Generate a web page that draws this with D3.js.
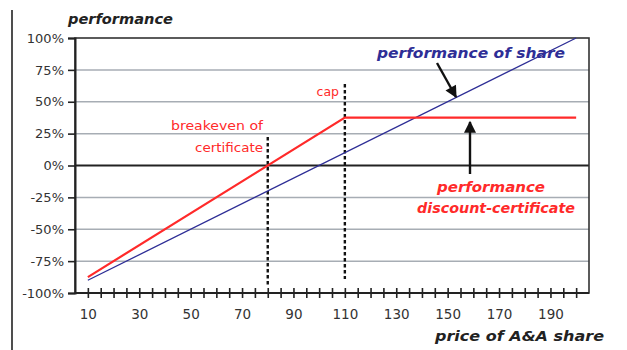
<!DOCTYPE html>
<html>
<head>
<meta charset="utf-8">
<script src="https://cdn.jsdelivr.net/npm/d3@7"></script>
<style>
  html, body { margin: 0; padding: 0; background: #fff; }
  svg { display: block; }
  text { font-family: "DejaVu Sans", sans-serif; }
</style>
</head>
<body>
<svg id="chart" width="627" height="350"></svg>
<script>
// Share price (x) and performance in percent (y)
const sharePrices = [10, 200];
const sharePerf = [-90, 100];

const certPrices = [10, 110, 200];
const certPerf = [-87.5, 37.5, 37.5];

const breakevenPrice = 80;
const capPrice = 110;

const yTicks = [-100, -75, -50, -25, 0, 25, 50, 75, 100];
const xTickLabels = [10, 30, 50, 70, 90, 110, 130, 150, 170, 190];
const xMinorTicks = [10, 15, 20, 25, 30, 35, 40, 45, 50, 55, 60, 65, 70, 75, 80, 85, 90, 95, 100,
  105, 110, 115, 120, 125, 130, 135, 140, 145, 150, 155, 160, 165, 170, 175, 180, 185, 190, 195, 200];

const svg = d3.select("#chart");
const m = { left: 75, right: 589, top: 38, bottom: 293 };

const x = d3.scaleLinear().domain([5, 205]).range([m.left, m.right]);
const y = d3.scaleLinear().domain([-100, 100]).range([m.bottom, m.top]);

const RED = "#ff2a2a";
const BLUE = "#2e2e96";

// page rule on the left
svg.append("line")
  .attr("x1", 12).attr("x2", 12).attr("y1", 10).attr("y2", 350)
  .attr("stroke", "#222").attr("stroke-width", 1.6);

// horizontal gridlines
svg.append("g").selectAll("line")
  .data(yTicks.filter(d => d !== 0 && d !== 100 && d !== -100))
  .join("line")
  .attr("x1", m.left).attr("x2", m.right)
  .attr("y1", d => y(d)).attr("y2", d => y(d))
  .attr("stroke", "#a7adb4").attr("stroke-width", 1.5);

// zero line
svg.append("line")
  .attr("x1", m.left).attr("x2", m.right)
  .attr("y1", y(0)).attr("y2", y(0))
  .attr("stroke", "#222").attr("stroke-width", 2);

// frame
svg.append("rect")
  .attr("x", m.left).attr("y", m.top)
  .attr("width", m.right - m.left).attr("height", m.bottom - m.top)
  .attr("fill", "none").attr("stroke", "#333").attr("stroke-width", 1.6);

// y axis
const yAxis = d3.axisLeft(y).tickValues(yTicks).tickSize(7).tickPadding(4)
  .tickFormat(d => (d < 0 ? "-" + Math.abs(d) : d) + "%");
const gy = svg.append("g").attr("transform", `translate(${m.left},0)`).call(yAxis);
gy.select(".domain").attr("stroke", "#222").attr("stroke-width", 2);
gy.selectAll(".tick line").attr("stroke", "#222").attr("stroke-width", 1.6);
gy.selectAll(".tick text").attr("font-size", 13).attr("fill", "#333")
  .attr("font-family", "DejaVu Sans, sans-serif");

// x axis: minor cross ticks
const xAxis = d3.axisBottom(x).tickValues(xMinorTicks).tickSize(4).tickFormat("");
const gx = svg.append("g").attr("transform", `translate(0,${m.bottom})`).call(xAxis);
gx.select(".domain").remove();
gx.selectAll(".tick line").attr("y1", -5).attr("y2", 5).attr("stroke", "#222").attr("stroke-width", 1.6);
svg.append("line").attr("x1", m.left).attr("x2", m.right).attr("y1", m.bottom).attr("y2", m.bottom)
  .attr("stroke", "#222").attr("stroke-width", 2);

// x axis labels
const gxl = svg.append("g").attr("transform", `translate(0,${m.bottom})`)
  .call(d3.axisBottom(x).tickValues(xTickLabels).tickSize(0).tickPadding(16));
gxl.select(".domain").remove();
gxl.selectAll(".tick text").attr("font-size", 13.5).attr("fill", "#333")
  .attr("font-family", "DejaVu Sans, sans-serif");

// dashed markers
svg.append("line")
  .attr("x1", x(breakevenPrice)).attr("x2", x(breakevenPrice))
  .attr("y1", 137).attr("y2", m.bottom - 6)
  .attr("stroke", "#111").attr("stroke-width", 2.4).attr("stroke-dasharray", "3.5,2.5");
svg.append("line")
  .attr("x1", x(capPrice)).attr("x2", x(capPrice))
  .attr("y1", 84).attr("y2", m.bottom - 14)
  .attr("stroke", "#111").attr("stroke-width", 2.4).attr("stroke-dasharray", "3.5,2.5");

const line = d3.line().x(d => x(d[0])).y(d => y(d[1]));

// share line
svg.append("path")
  .datum(sharePrices.map((p, i) => [p, sharePerf[i]]))
  .attr("d", line).attr("fill", "none").attr("stroke", BLUE).attr("stroke-width", 1.3);

// certificate line
svg.append("path")
  .datum(certPrices.map((p, i) => [p, certPerf[i]]))
  .attr("d", line).attr("fill", "none").attr("stroke", RED).attr("stroke-width", 2.2);

// arrow marker
const defs = svg.append("defs");
defs.append("marker")
  .attr("id", "arrow").attr("viewBox", "0 0 10 10")
  .attr("refX", 9).attr("refY", 5)
  .attr("markerWidth", 5.5).attr("markerHeight", 5)
  .attr("markerUnits", "strokeWidth")
  .attr("orient", "auto")
  .append("path").attr("d", "M0,0 L10,5 L0,10 Z").attr("fill", "#111");

svg.append("line")
  .attr("x1", 437).attr("y1", 63).attr("x2", 456).attr("y2", 97)
  .attr("stroke", "#111").attr("stroke-width", 2.4).attr("marker-end", "url(#arrow)");
svg.append("line")
  .attr("x1", 470).attr("y1", 174).attr("x2", 470).attr("y2", 122)
  .attr("stroke", "#111").attr("stroke-width", 2.4).attr("marker-end", "url(#arrow)");

// titles and annotations
function label(txt, xPos, yPos, width, size, color, bold) {
  const t = svg.append("text")
    .attr("x", xPos).attr("y", yPos)
    .attr("font-size", size).attr("fill", color)
    .text(txt);
  if (width) t.attr("textLength", width).attr("lengthAdjust", "spacingAndGlyphs");
  if (bold) t.attr("font-weight", "bold").attr("font-style", "italic");
  return t;
}

label("performance", 68, 24, 105, 14, "#222", true);
label("price of A&A share", 435, 341, 169, 14, "#222", true);
label("performance of share", 377, 58, 188, 14.5, BLUE, true);
label("performance", 437, 192, 108, 14.5, RED, true);
label("discount-certificate", 417, 213, 158, 14.5, RED, true);

label("cap", 339, 96, null, 12.5, RED, false).attr("text-anchor", "end");
label("breakeven of", 171, 130, 92, 12.5, RED, false);
label("certificate", 195, 152, 68, 12.5, RED, false);
</script>
</body>
</html>
